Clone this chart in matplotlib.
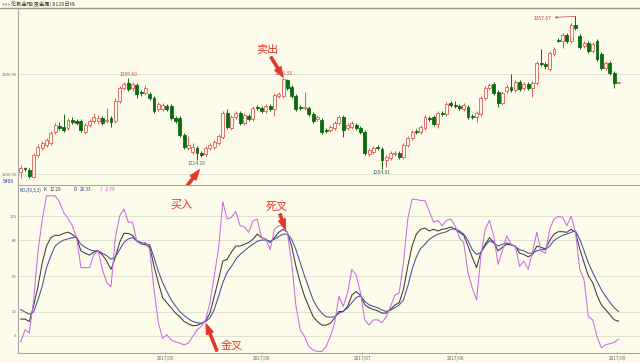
import matplotlib
matplotlib.use("Agg")
import matplotlib.pyplot as plt
from matplotlib.lines import Line2D

plt.rcParams['font.family'] = ['Noto Sans CJK SC', 'DejaVu Sans']

# daily candles, London gold
opens = [1202, 1206, 1204, 1197, 1219, 1226, 1229, 1231, 1242, 1248,
         1247, 1246, 1254, 1253, 1253, 1242, 1249, 1253, 1253, 1256,
         1253, 1256, 1253, 1273, 1286, 1291, 1286, 1289, 1282, 1281,
         1280, 1276, 1265, 1265, 1268, 1268, 1256, 1256, 1239, 1226,
         1222, 1226, 1221, 1220, 1226, 1227, 1231, 1237, 1261, 1246,
         1257, 1261, 1251, 1258, 1255, 1267, 1266, 1263, 1268, 1265,
         1278, 1278, 1294, 1287, 1278, 1267, 1266, 1266, 1260, 1255,
         1254, 1244, 1244, 1246, 1251, 1257, 1246, 1247, 1249, 1246,
         1242, 1220, 1222, 1227, 1225, 1214, 1216, 1220, 1221, 1217,
         1229, 1236, 1243, 1242, 1246, 1256, 1257, 1250, 1261, 1260,
         1271, 1269, 1268, 1265, 1267, 1258, 1257, 1260, 1276, 1286,
         1290, 1282, 1271, 1283, 1287, 1284, 1292, 1286, 1290, 1286,
         1291, 1311, 1310, 1305, 1320, 1334, 1333, 1339, 1333, 1349,
         1338, 1328, 1331, 1323, 1333, 1320, 1306, 1311, 1301, 1291]
closes = [1206, 1205, 1198, 1219, 1227, 1231, 1234, 1241, 1249, 1246,
          1244, 1254, 1252, 1251, 1244, 1249, 1253, 1257, 1256, 1251,
          1254, 1252, 1273, 1286, 1290, 1285, 1290, 1280, 1281, 1286,
          1276, 1263, 1270, 1269, 1265, 1256, 1253, 1239, 1227, 1229,
          1227, 1221, 1219, 1226, 1229, 1232, 1238, 1261, 1247, 1257,
          1261, 1251, 1259, 1255, 1266, 1266, 1263, 1268, 1265, 1279,
          1280, 1295, 1286, 1278, 1265, 1266, 1267, 1260, 1253, 1257,
          1242, 1243, 1247, 1251, 1257, 1244, 1249, 1251, 1246, 1242,
          1221, 1224, 1226, 1226, 1214, 1217, 1221, 1221, 1217, 1229,
          1236, 1242, 1242, 1247, 1257, 1255, 1250, 1261, 1260, 1270,
          1269, 1268, 1266, 1269, 1257, 1257, 1261, 1276, 1286, 1289,
          1281, 1271, 1281, 1287, 1284, 1292, 1285, 1290, 1286, 1291,
          1311, 1310, 1308, 1321, 1325, 1333, 1339, 1333, 1349, 1346,
          1327, 1331, 1323, 1330, 1315, 1306, 1311, 1301, 1291, 1292]
highs = [1209, 1207, 1206, 1221, 1230, 1233, 1236, 1243, 1251, 1252,
         1260, 1256, 1257, 1255, 1255, 1251, 1255, 1261, 1259, 1258,
         1266, 1258, 1276, 1288, 1292, 1295.6, 1292, 1291, 1284, 1289,
         1282, 1278, 1272, 1271, 1270, 1270, 1258, 1258, 1241, 1238,
         1231, 1228, 1223, 1228, 1231, 1234, 1240, 1263, 1265, 1259,
         1263, 1263, 1261, 1260, 1268, 1269, 1268, 1270, 1270, 1281,
         1282, 1296.33, 1295, 1289, 1280, 1269, 1282, 1268, 1262, 1259,
         1256, 1246, 1249, 1253, 1259, 1259, 1251, 1253, 1251, 1248,
         1244, 1226, 1228, 1229, 1227, 1219, 1223, 1223, 1223, 1231,
         1238, 1244, 1245, 1249, 1259, 1258, 1259, 1263, 1263, 1272,
         1273, 1273, 1270, 1271, 1269, 1260, 1263, 1278, 1288, 1291,
         1292, 1284, 1283, 1289, 1300, 1294, 1294, 1292, 1292, 1293,
         1313, 1325, 1312, 1323, 1327, 1336, 1341, 1341, 1351, 1357.67,
         1340, 1333, 1333, 1332, 1335, 1322, 1313, 1313, 1303, 1292]
lows = [1196, 1203, 1196, 1196, 1217, 1224, 1227, 1229, 1240, 1244,
        1242, 1244, 1250, 1249, 1242, 1240, 1247, 1251, 1250, 1249,
        1251, 1247, 1251, 1271, 1284, 1283, 1283, 1276, 1278, 1279,
        1274, 1261, 1263, 1263, 1263, 1254, 1251, 1237, 1225, 1224,
        1220, 1214.2, 1217, 1218, 1224, 1225, 1229, 1235, 1245, 1244,
        1255, 1249, 1249, 1253, 1253, 1264, 1261, 1261, 1263, 1258,
        1276, 1276, 1284, 1276, 1263, 1264, 1264, 1258, 1251, 1253,
        1240, 1241, 1242, 1244, 1249, 1237, 1244, 1245, 1244, 1240,
        1219, 1218, 1220, 1224, 1204.91, 1207, 1214, 1218, 1215, 1215,
        1227, 1234, 1240, 1240, 1244, 1253, 1248, 1246, 1258, 1258,
        1267, 1266, 1264, 1263, 1255, 1255, 1252, 1258, 1274, 1284,
        1279, 1267, 1269, 1281, 1282, 1282, 1283, 1284, 1284, 1277,
        1289, 1308, 1305, 1303, 1318, 1332, 1326, 1331, 1331, 1344,
        1325, 1326, 1321, 1321, 1313, 1304, 1304, 1299, 1286, 1291]

# KDJ(9,3,3)
k_vals = [14, 14, 12, 25, 41, 61, 75, 82, 84, 84,
          85.6, 86.6, 84.6, 82, 71, 69, 67.5, 70, 71, 67.5,
          62.5, 55.5, 65.5, 78, 85.6, 85.6, 84, 79, 77, 76,
          74.5, 58, 44.5, 32, 27.7, 23.5, 19, 16, 12, 10,
          8.4, 8.7, 10.5, 12.5, 19, 33, 47, 62.5, 64, 70,
          75, 75, 76.5, 78, 80.7, 85, 82, 80.7, 78, 82,
          86.5, 89, 86.5, 75, 58, 44.5, 33, 24.6, 16, 12,
          9, 9, 10.5, 15, 20.4, 20.4, 24.6, 34, 37, 34,
          26, 23.5, 22, 21, 19, 19, 22, 25.8, 27.7, 38.7,
          58, 75, 85, 89, 90, 87.6, 89, 87.6, 89, 89.6,
          91, 89, 86.5, 84, 75, 65.5, 57, 70, 76.5, 82,
          78, 71, 74, 76.5, 76, 75, 69, 68, 66, 68,
          75, 74, 72.5, 79.6, 85, 87, 87, 86.5, 89, 86.5,
          72.5, 61, 50, 44.5, 34, 26, 22, 17.6, 13.4, 12.29]
d_vals = [22, 20, 18, 20, 30, 41.4, 57, 66.6, 75, 78,
          80, 81, 82, 82, 76.5, 74, 72, 71, 71, 69,
          67, 64, 66, 72, 78, 81, 82, 79.6, 78, 77,
          76, 65.5, 54, 44.5, 37, 30, 25, 20.4, 17, 14.3,
          12, 11, 10.4, 12, 15, 22, 33, 44.5, 53, 58,
          64, 68, 71, 74, 76.5, 79, 80, 80, 79, 80.7,
          83, 85, 85, 80.7, 72, 61, 50, 40, 30, 23.5,
          19, 16, 15.5, 16, 19, 20.4, 23.5, 27.7, 32, 33.6,
          28.8, 26, 24.6, 23.5, 21.6, 20.4, 21.6, 23.5, 25.8, 30,
          41.4, 55.5, 66, 73, 76.5, 80.7, 83, 85, 86, 87,
          89, 89.6, 87.6, 85, 79.6, 72, 68, 69.5, 75, 79.6,
          77.6, 75, 76.5, 77.6, 76.5, 74.5, 72, 71, 69, 69,
          71, 72, 72, 75, 79.6, 82, 84, 85, 86.5, 87.6,
          80.7, 71, 61, 53, 45.6, 38.7, 33, 28, 23.5, 20.33]
j_vals = [-5, 5, 2.5, 30, 70, 97, 117, 117, 117, 112,
          103, 98, 92, 82, 57, 57, 57, 68, 71, 55.5,
          44.5, 41, 82, 100, 106, 95, 95, 79, 76.5, 78,
          72, 38.7, 11, -2, 1, -3.5, -5, -6, -7.5, -6,
          -0.5, 5, 8, 13.4, 27.7, 50, 73, 112, 97.5, 99,
          104, 92, 91, 86.5, 96, 97.5, 82, 80.7, 72, 89,
          92, 92, 86.5, 61, 25, 5, -0.5, -9, -11.8, -13,
          -13, -9, -0.5, 11, 33, 24.6, 36, 55.5, 51, 36,
          13.4, 9, 13.4, 13.4, 11, 16, 24.6, 34, 36, 61,
          97.5, 114, 114, 113, 113, 104, 95, 96.5, 92, 96.5,
          97.5, 92, 82, 78, 53, 40, 30, 66.6, 89, 96.5,
          83.5, 59.7, 71, 83.5, 76.5, 75, 58, 62.5, 55.5, 70,
          86.5, 71, 69, 89, 97.5, 99.7, 99, 92, 100, 86.5,
          55.5, 47, 16, 13.4, -0.5, -10, -7.5, -6.5, -5.5, -2.79]

month_idx = [33.6, 56.1, 79.4, 101.2, 138.7]
month_labels = ['2017/05', '2017/06', '2017/07', '2017/08', '2017/09']

bg = '#fdfcea'
up_col = '#e25a55'
down_col = '#0b6b12'
axis_col = '#a8a8a0'
grid_col = '#dcdccc'
red = '#e2372a'
W, H = 640, 363


def frac(x0, y0, x1, y1):
    return [x0 / W, 1 - y1 / H, (x1 - x0) / W, (y1 - y0) / H]


fig = plt.figure(figsize=(6.4, 3.63), dpi=100, facecolor=bg)
ax_p = fig.add_axes(frac(18, 8, 640, 185), facecolor=bg)
ax_k = fig.add_axes(frac(18, 185, 640, 353), facecolor=bg)

idx = list(range(len(closes)))
ups = [c >= o for o, c in zip(opens, closes)]

# wicks first, bodies on top so hollow candles hide the wick
for i in idx:
    col = up_col if ups[i] else down_col
    ax_p.vlines(i, lows[i], highs[i], color=col, lw=0.7, zorder=2)
for i in idx:
    lo, hi = min(opens[i], closes[i]), max(opens[i], closes[i])
    if ups[i]:
        ax_p.bar(i, max(hi - lo, 0.3), bottom=lo, width=0.68, facecolor=bg,
                 edgecolor=up_col, lw=0.6, zorder=3)
    else:
        ax_p.bar(i, max(hi - lo, 0.3), bottom=lo, width=0.68, facecolor=down_col,
                 edgecolor=down_col, lw=0.6, zorder=3)

ax_p.set_xlim(-0.63, 144.0)
ax_p.set_ylim(1189, 1366)
ax_p.set_yticks([1200, 1300])
ax_p.set_yticklabels(['1200.00', '1300.00'])
ax_p.set_xticks([])
ax_p.grid(axis='y', color=grid_col, lw=0.6)
ax_p.set_axisbelow(True)

# high / low marks
ax_p.text(25, 1297.5, '1295.60', ha='center', va='bottom', fontsize=3.6, color='#cc4b4b')
ax_p.text(41, 1213, '1214.20', ha='center', va='top', fontsize=3.6, color='#2f7a55')
ax_p.text(61, 1298, '1296.33', ha='center', va='bottom', fontsize=3.6, color='#cc4b4b')
ax_p.text(84, 1203.5, '1204.91', ha='center', va='top', fontsize=3.6, color='#2f6a50')
ax_p.annotate('1357.67', xy=(129, 1357.67), xytext=(123.5, 1356), ha='right', va='center',
              fontsize=3.6, color='#b04040',
              arrowprops=dict(arrowstyle='<-', color='#b04040', lw=0.5, shrinkA=0, shrinkB=0))

ax_k.plot(idx, k_vals, color='#3c3c3c', lw=0.75)
ax_k.plot(idx, d_vals, color='#4c4c9c', lw=0.75)
ax_k.plot(idx, j_vals, color='#c96be6', lw=0.75)
ax_k.set_xlim(-0.63, 144.0)
ax_k.set_ylim(-14.3, 126)
ax_k.set_yticks([0, 20, 50, 80, 100])
ax_k.set_xticks(month_idx)
ax_k.set_xticklabels(month_labels)
ax_k.grid(axis='y', color=grid_col, lw=0.6)
ax_k.set_axisbelow(True)

for ax in (ax_p, ax_k):
    ax.tick_params(axis='y', length=0, pad=1.0, labelsize=3.0, labelcolor='#6a6a6a')
    ax.tick_params(axis='x', length=2, direction='inout', pad=1.5, labelsize=3.4,
                   labelcolor='#6a6a6a', color=axis_col)
    ax.spines['right'].set_visible(False)
    for s in ('left', 'top', 'bottom'):
        ax.spines[s].set_color(axis_col)
        ax.spines[s].set_linewidth(0.8)
ax_p.spines['bottom'].set_visible(False)

# window frame line and captions
fig.add_artist(Line2D([0, 1], [1 - 8 / H] * 2, transform=fig.transFigure, color='#9a9a94', lw=1.0))
fig.text(2 / W, 1 - 4 / H, '»»» 伦敦金现(贵金属) 8120日线', fontsize=3.8, va='center', color='#333333')
fig.text(3 / W, 1 - 182 / H, '5409', fontsize=3.6, va='center', color='#2a44a0')

hdr_y = 1 - 190 / H
fig.text(20 / W, hdr_y, 'KDJ(9,3,3)', fontsize=3.3, va='center', color='#2a3a80')
fig.text(43 / W, hdr_y, 'K', fontsize=3.3, va='center', color='#333333')
fig.text(50 / W, hdr_y, '12.29', fontsize=3.3, va='center', color='#333333')
fig.text(74 / W, hdr_y, 'D', fontsize=3.3, va='center', color='#2a3a80')
fig.text(80 / W, hdr_y, '20.33', fontsize=3.3, va='center', color='#2a3a80')
fig.text(100 / W, hdr_y, 'J', fontsize=3.3, va='center', color='#d040d0')
fig.text(105 / W, hdr_y, '-2.79', fontsize=3.3, va='center', color='#d040d0')

# buy / sell notes with red arrows
arrow = dict(arrowstyle='simple,head_length=0.8,head_width=0.55,tail_width=0.18',
             color=red, shrinkA=0, shrinkB=0, mutation_scale=9)
fig.text(267 / W, 1 - 50 / H, '卖出', fontsize=8, color=red, ha='center', va='center')
ax_p.annotate('', xy=(61, 1297), xytext=(271, 306), textcoords='figure pixels', arrowprops=arrow)
fig.text(182 / W, 1 - 205 / H, '买入', fontsize=8, color=red, ha='center', va='center')
ax_p.annotate('', xy=(41.5, 1204), xytext=(184, 173), textcoords='figure pixels', arrowprops=arrow)
fig.text(277 / W, 1 - 207 / H, '死叉', fontsize=8, color=red, ha='center', va='center')
ax_k.annotate('', xy=(61.5, 89), xytext=(280, 149), textcoords='figure pixels', arrowprops=arrow)
fig.text(232 / W, 1 - 346 / H, '金叉', fontsize=8, color=red, ha='center', va='center')
ax_k.annotate('', xy=(43.1, 10), xytext=(217, 12), textcoords='figure pixels', arrowprops=arrow)

fig.savefig('out.png', dpi=100, facecolor=bg)
